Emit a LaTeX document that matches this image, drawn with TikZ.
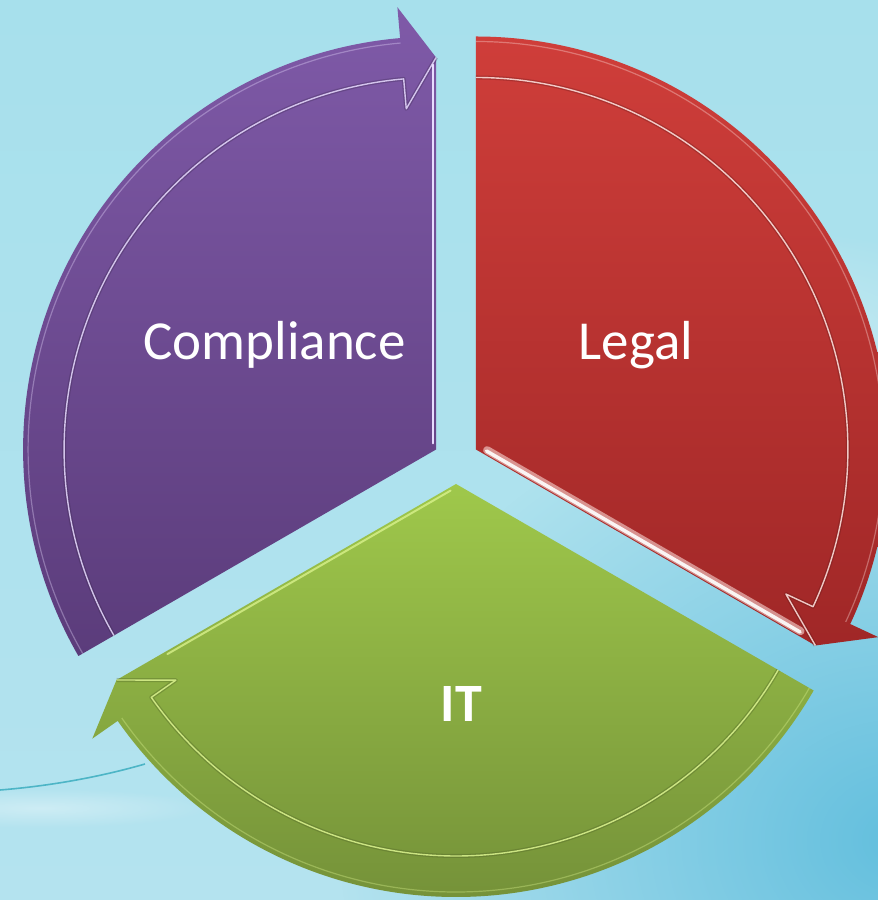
\documentclass[tikz,border=0pt]{standalone}
\usepackage{fontspec}
\setmainfont{Carlito}
\usetikzlibrary{calc,fadings}

% background
\definecolor{bgA}{HTML}{A7E0EC}
\definecolor{bgB}{HTML}{CFEFF5}
\definecolor{bgC}{HTML}{B4E3EF}
\definecolor{bgDeep}{HTML}{5ABBDC}
\definecolor{swooshcol}{HTML}{4DB5C6}
% segments
\definecolor{purpleTop}{HTML}{7F5AA8}
\definecolor{purpleBot}{HTML}{5B3C7B}
\definecolor{purpleRim}{HTML}{E8DCFF}
\definecolor{redTop}{HTML}{CF3E3A}
\definecolor{redBot}{HTML}{A02727}
\definecolor{redRim}{HTML}{FFE6E2}
\definecolor{greenTop}{HTML}{9FC84B}
\definecolor{greenBot}{HTML}{759239}
\definecolor{greenRim}{HTML}{DDF590}

\tikzfading[name=glowfade, inner color=transparent!0, outer color=transparent!100]

% radii of the segments and of their arrow bands
\def\segRo{413pt}  % outer radius
\def\segRoo{408pt} % outer rim highlight
\def\segRi{372pt}  % inner edge of the arrow band
\def\segRt{392pt}  % arrow tip
\def\segRb{444pt}  % outer barb of the arrow head
\def\segRbi{342pt} % inner barb of the arrow head

% #1 apex, #2 start angle, #3 end angle, #4 top colour, #5 bottom colour, #6 rim colour
\newcommand\segbody[6]{%
  \path[top color=#4, bottom color=#5]
    (#1) -- ($(#1)+(#2:\segRo)$)
    arc[start angle=#2, end angle={#3+5}, radius=\segRo]
    -- ($(#1)+({#3+5}:\segRb)$) -- ($(#1)+(#3:\segRt)$) -- cycle;
  % groove and bright rim along the inner side of the arrow band
  \draw[#5!60!black, line width=4pt, opacity=.3, line join=round]
    ($(#1)+(#2:\segRi)$) arc[start angle=#2, end angle={#3+5}, radius=\segRi]
    -- ($(#1)+({#3+5}:\segRbi)$) -- ($(#1)+(#3:\segRt)$);
  \draw[#6, line width=1.4pt, opacity=.85, line join=round]
    ($(#1)+(#2:\segRi)$) arc[start angle=#2, end angle={#3+5}, radius=\segRi]
    -- ($(#1)+({#3+5}:\segRbi)$) -- ($(#1)+(#3:\segRt)$);
  % faint light rim along the outer edge
  \draw[#6, line width=1.2pt, opacity=.35]
    ($(#1)+(#2:\segRoo)$) arc[start angle=#2, end angle={#3+5}, radius=\segRoo];
}

\begin{document}
\begin{tikzpicture}[x=1pt,y=1pt,
  segtext/.style={text=white, inner sep=0pt, font=\fontsize{55}{66}\selectfont},
  edgelight/.style={line cap=round, line width=#1},
  swoosh/.style={swooshcol, line width=1.6pt}]
\useasboundingbox (0,0) rectangle (878,900);

\begin{scope}
  \clip (0,0) rectangle (878,900);
  \shade[top color=bgA, middle color=bgB, bottom color=bgC] (0,0) rectangle (878,900);
  \fill[bgDeep, opacity=.9, path fading=glowfade] (900,60) ellipse (560pt and 470pt);
  \fill[white, opacity=.3, path fading=glowfade] (780,560) ellipse (240pt and 110pt);
  % thin streak in the lower left
  \fill[white, opacity=.35, path fading=glowfade] (40,92) ellipse (170pt and 20pt);
  \draw[swoosh] (0,110) .. controls (50,114) and (100,123) .. (145,136);
\end{scope}

% centre of the cycle and the three exploded apexes
\coordinate (C) at (456,439);
\coordinate (P) at ($(C)+(150:23pt)$);
\coordinate (R) at ($(C)+(30:23pt)$);
\coordinate (G) at ($(C)+(270:23pt)$);

% Compliance
\segbody{P}{210}{90}{purpleTop}{purpleBot}{purpleRim}
\draw[purpleRim, edgelight=1.6pt] ($(P)+(90:6pt)+(180:3pt)$) -- ($(P)+(90:385pt)+(180:3pt)$);

% Legal
\segbody{R}{90}{-30}{redTop}{redBot}{redRim}
\draw[redRim, opacity=.55, edgelight=8pt] ($(R)+(-30:10pt)+(60:5pt)$) -- ($(R)+(-30:372pt)+(60:5pt)$);
\draw[white, opacity=.9, edgelight=3.5pt] ($(R)+(-30:10pt)+(60:4pt)$) -- ($(R)+(-30:372pt)+(60:4pt)$);

% IT
\segbody{G}{330}{210}{greenTop}{greenBot}{greenRim}
\draw[greenRim, opacity=.75, edgelight=2pt] ($(G)+(210:8pt)+(300:3pt)$) -- ($(G)+(210:335pt)+(300:3pt)$);

\node[segtext, anchor=base] (compliance) at (274.5,540) {Compliance};
\node[segtext, anchor=base] (legal) at (636,540) {Legal};
\node[segtext, anchor=base, font=\fontsize{54}{64}\selectfont\bfseries] (it) at (461.5,178) {IT};
\end{tikzpicture}
\end{document}
